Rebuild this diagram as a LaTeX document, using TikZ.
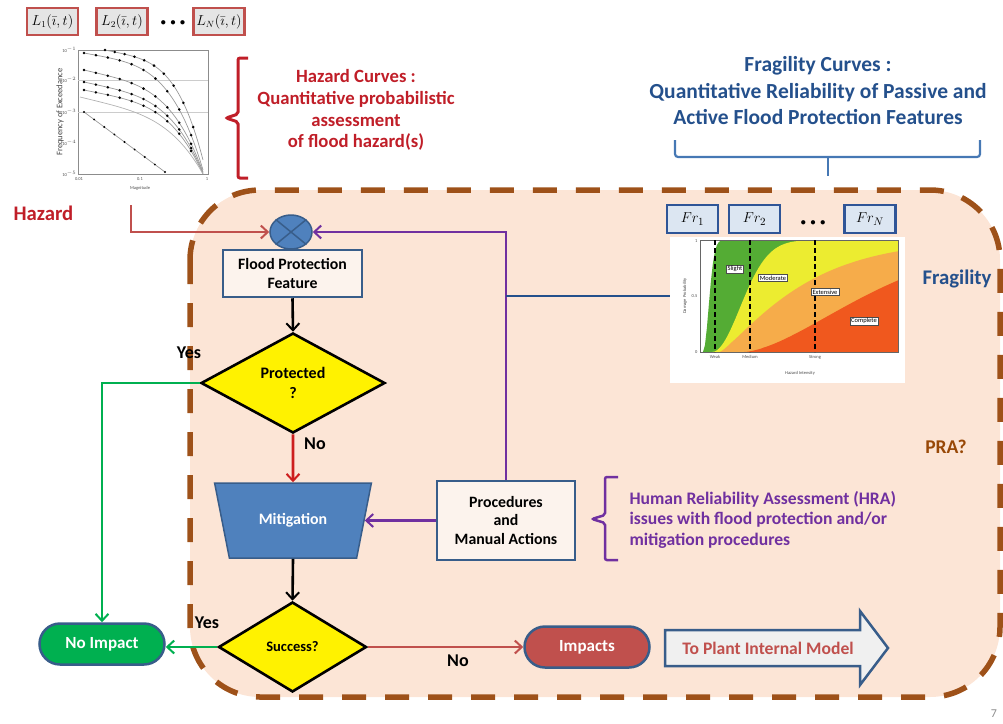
\documentclass[tikz,border=0pt]{standalone}
\usepackage{fontspec}
\setmainfont{Carlito}
\usetikzlibrary{shapes.geometric,shapes.misc,arrows.meta}
\definecolor{bgfill}{RGB}{252,229,214}
\definecolor{dashbrown}{RGB}{158,81,25}
\definecolor{hazred}{RGB}{192,30,40}
\definecolor{boxred}{RGB}{192,80,77}
\definecolor{flowred}{RGB}{205,30,30}
\definecolor{fragblue}{RGB}{36,80,140}
\definecolor{bracblue}{RGB}{70,120,180}
\definecolor{nodeblue}{RGB}{79,129,189}
\definecolor{borderblue}{RGB}{56,93,138}
\definecolor{hrapurple}{RGB}{112,48,160}
\definecolor{okgreen}{RGB}{0,176,80}
\definecolor{boxfill}{RGB}{252,243,237}
\definecolor{frfill}{RGB}{220,230,242}
\definecolor{frborder}{RGB}{47,85,151}
\definecolor{prabrown}{RGB}{152,72,7}
\definecolor{cgreen}{RGB}{84,172,52}
\definecolor{cyellow}{RGB}{236,236,48}
\definecolor{corange}{RGB}{246,172,74}
\definecolor{cred}{RGB}{240,88,30}
\newcommand\FS[2]{\fontsize{#1}{#2}\selectfont}
\begin{document}
\begin{tikzpicture}[x=1pt,y=-1pt,
  arr/.style={-{Straight Barb[length=7pt,width=13pt,line width=2pt]}, line width=2.6pt},
  lbox/.style={draw=boxred, line width=2.5pt, fill=black!10, minimum width=51, minimum height=27, inner sep=0pt, font=\FS{13.5}{15}},
  frbox/.style={draw=frborder, line width=2.5pt, fill=frfill, minimum width=51, minimum height=28, inner sep=0pt, font=\FS{15}{17}},
  flowbox/.style={draw=borderblue, line width=2.5pt, fill=boxfill, align=center, inner sep=0pt, font=\bfseries\FS{15.8}{19}},
  decision/.style={diamond, draw=black, line width=2.6pt, fill=yellow, inner sep=0pt, align=center, font=\bfseries\FS{16}{20}},
  pill/.style={rounded rectangle, draw=borderblue, line width=2.5pt, text=white, font=\bfseries\FS{17}{20}, minimum width=125, minimum height=41, inner sep=0pt},
  lbl/.style={font=\bfseries\FS{18}{20}},
  clabel/.style={draw=black!70, line width=0.4pt, fill=white, font=\FS{6.5}{7.5}, inner sep=1.4pt},
  tinylbl/.style={font=\FS{4.5}{5}, text=black!70, inner sep=0.5pt},
  dotsnode/.style={font=\FS{11}{13}, inner sep=0pt},
]
\useasboundingbox (0,0) rectangle (1003,723);

% ---------- PRA region ----------
\draw[draw=dashbrown, fill=bgfill, line width=5.5pt, dash pattern=on 24pt off 19pt, rounded corners=70pt] (190,190) rectangle (1000,697);

% ---------- hazard inputs ----------
\node[lbox] (l1) at (52.5,21.5) {$L_1(\bar{\imath},t)$};
\node[lbox] (l2) at (122,21.5) {$L_2(\bar{\imath},t)$};
\node[dotsnode] (ldots) at (173,23) {$\bullet\,\bullet\,\bullet$};
\node[lbox] (ln) at (219,21.5) {$L_N(\bar{\imath},t)$};

% hazard curves chart
\draw[black!45, line width=0.5pt] (78,50) rectangle (208,174);
\draw[black!20, line width=0.4pt] (78,80) -- (208,80) (78,112) -- (208,112);
\foreach \xa/\ya/\m/\ye in {105/50/20/160, 84/53/22/170, 84/70/28/172, 84/82/26/173, 84/90/24/174}{
  \draw[black!40, line width=0.7pt] plot[domain=0:1, samples=40] ({\xa+(203-\xa)*\x},{\ya+\m*\x+(\ye-\ya-\m)*\x^4});
  \foreach \t in {0,0.1,...,0.95}{
    \fill ({\xa+(203-\xa)*\t},{\ya+\m*\t+(\ye-\ya-\m)*\t^4}) circle (1.4pt);
  }
}
\draw[black!30, line width=0.7pt] plot[domain=0:1, samples=40] ({80+123*\x},{97+30*\x+47*\x^4});
\draw[black!40, line width=0.7pt] (84,112) -- (165,172);
\foreach \t in {0,0.125,...,1}{ \fill ({84+81*\t},{112+60*\t}) circle (1.1pt); }
\node[tinylbl, anchor=east] (hy1) at (77,50) {10$^{-1}$};
\node[tinylbl, anchor=east] (hy2) at (77,80) {10$^{-2}$};
\node[tinylbl, anchor=east] (hy3) at (77,112) {10$^{-3}$};
\node[tinylbl, anchor=east] (hy4) at (77,143) {10$^{-4}$};
\node[tinylbl, anchor=east] (hy5) at (77,174) {10$^{-5}$};
\node[tinylbl] (hx1) at (79,179) {0.01};
\node[tinylbl] (hx2) at (140,179) {0.1};
\node[tinylbl] (hx3) at (207,179) {1};
\node[tinylbl] (hxl) at (140,188) {Magnitude};
\node[font=\FS{8.5}{10}, text=black!75, rotate=90] (hyl) at (60,112) {Frequency of Exceedance};

% hazard text and brace
\draw[hazred, line width=3pt, rounded corners=2pt] (248,58) -- (238,58) -- (238,114) -- (226,118) -- (238,122) -- (238,178) -- (248,178);
\node[text=hazred, align=center, font=\bfseries\FS{18.7}{21.8}] (haztext) at (356,110) {Hazard Curves :\\Quantitative probabilistic\\assessment\\of flood hazard(s)};
\node[text=hazred, font=\bfseries\FS{20.7}{24}, anchor=west] (hazlbl) at (10,213) {Hazard};

% fragility text and brace
\node[text=fragblue, align=center, font=\bfseries\FS{21.5}{26.5}] (fragtext) at (818,91) {Fragility Curves :\\Quantitative Reliability of Passive and\\Active Flood Protection Features};
\draw[bracblue, line width=2.2pt, rounded corners=3pt] (675,140) -- (675,157) -- (980,157) -- (980,140);
\draw[bracblue, line width=2.2pt] (828,157) -- (828,176);

% ---------- fragility curves ----------
\node[frbox] (fr1) at (692.5,219) {$Fr_1$};
\node[frbox] (fr2) at (754.5,219) {$Fr_2$};
\node[dotsnode] (frdots) at (813,223) {$\bullet\,\bullet\,\bullet$};
\node[frbox] (frn) at (870,219) {$Fr_N$};
\node[fill=white, minimum width=235, minimum height=146, inner sep=0pt] (fchart) at (787.5,310) {};
\fill[cgreen] (703,352) -- plot[domain=0.015:1, samples=100] ({700+198*\x},{352-112*(1-exp(-min(((\x-0.015)/0.04)^2,9)))}) -- (898,352) -- cycle;
\fill[cyellow] (711.88,352) -- plot[domain=0.06:1, samples=80] ({700+198*\x},{352-112*(1-exp(-min(((\x-0.06)/0.2)^2,9)))}) -- (898,352) -- cycle;
\fill[corange] (719.8,352) -- plot[domain=0.101:1, samples=80] ({700+198*\x},{352-112*(1-exp(-((\x-0.1)/0.45)^1.2))}) -- (898,352) -- cycle;
\fill[cred] (743.6,352) -- plot[domain=0.221:1, samples=80] ({700+198*\x},{352-112*(1-exp(-((\x-0.22)/0.77)^1.6))}) -- (898,352) -- cycle;
\draw[black!60, line width=0.6pt] (700,240) rectangle (898,352);
\foreach \xv in {715,750,815}{
  \draw[black, line width=1.3pt, dash pattern=on 5pt off 3pt] (\xv,240) -- (\xv,352);
}
\node[clabel] (cslight) at (735,269) {Slight};
\node[clabel] (cmod) at (773,278) {Moderate};
\node[clabel] (cext) at (825,292) {Extensive};
\node[clabel] (ccomp) at (864,321) {Complete};
\node[tinylbl, anchor=east] (fy1) at (698,241) {1};
\node[tinylbl, anchor=east] (fy2) at (698,296) {0.5};
\node[tinylbl, anchor=east] (fy3) at (698,352) {0};
\node[tinylbl] (fx1) at (715,357) {Weak};
\node[tinylbl] (fx2) at (750,357) {Medium};
\node[tinylbl] (fx3) at (815,357) {Strong};
\node[tinylbl] (fxl) at (800,373) {Hazard Intensity};
\node[tinylbl, rotate=90] (fyl) at (685,296) {Damage Probability};

% ---------- flow ----------
\node[ellipse, draw=borderblue, line width=1.5pt, fill=nodeblue, minimum width=42, minimum height=34, inner sep=0pt] (mult) at (291,232) {};
\draw[borderblue, line width=1.5pt] (mult.north west) -- (mult.south east) (mult.north east) -- (mult.south west);

\node[flowbox, minimum width=139, minimum height=47] (fpf) at (292.5,273.5) {Flood Protection\\Feature};
\node[decision, minimum width=184, minimum height=100] (prot) at (293,383) {Protected\\?};
\node[trapezium, trapezium stretches=true, shape border rotate=180, trapezium angle=67, minimum width=157, minimum height=75, draw=borderblue, line width=1.5pt, fill=nodeblue, text=white, font=\bfseries\FS{15.9}{18}] (mit) at (293,520.5) {Mitigation};
\node[flowbox, minimum width=138, minimum height=79, font=\bfseries\FS{15.8}{18.5}] (proc) at (506,520.5) {Procedures\\and\\Manual Actions};
\node[decision, minimum width=148, minimum height=90, font=\bfseries\FS{14.5}{16}] (succ) at (292.5,647) {Success?};
\node[pill, fill=okgreen] (noimp) at (102,644) {No Impact};
\node[pill, fill=boxred] (imp) at (587,647) {Impacts};
\draw[draw=borderblue, line width=2.5pt, fill=black!6, line join=miter] (665,630) -- (860,630) -- (860,611) -- (888,648) -- (860,685) -- (860,666) -- (665,666) -- cycle;
\node[text=boxred, font=\bfseries\FS{17.6}{20}] (toplant) at (768,648) {To Plant Internal Model};

\coordinate (hzs) at (131,205);
\coordinate (yref) at (0,296);
\coordinate (bj) at (proc.north |- yref);

\draw[arr, boxred] (hzs) |- (mult.west);
\draw[arr, hrapurple] (proc.north) |- (mult.east);
\draw[fragblue, line width=2.2pt] (bj) -- (bj -| fchart.west);
\draw[arr, black] (fpf.south) -- (prot.north);
\draw[arr, flowred] (prot.south) -- (mit.north);
\draw[arr, black] (mit.south) -- (succ.north);
\draw[arr, okgreen] (prot.west) -| (noimp.north);
\draw[arr, okgreen] (succ.west) -- (noimp.east |- succ.west);
\draw[arr, boxred, line width=2pt] (succ.east) -- (imp.west);
\draw[arr, hrapurple] (proc.west) -- (mit.east);

\node[lbl] (yes1) at (189,353) {Yes};
\node[lbl] (no1) at (315,444) {No};
\node[lbl] (yes2) at (207,623) {Yes};
\node[lbl] (no2) at (458,661) {No};

% HRA
\draw[hrapurple, line width=2.5pt, rounded corners=2pt] (618,477) -- (605,477) -- (605,515) -- (592,519) -- (605,523) -- (605,560) -- (618,560);
\node[anchor=west, text=hrapurple, align=left, font=\bfseries\FS{17.6}{20.5}] (hra) at (626,519.5) {Human Reliability Assessment (HRA)\\issues with flood protection and/or\\mitigation procedures};

\node[text=fragblue, font=\bfseries\FS{20.8}{24}] (fraglbl) at (957,279) {Fragility};
\node[text=prabrown, font=\bfseries\FS{19.5}{22}] (pra) at (946,447) {PRA?};
\node[text=black!45, font=\FS{12}{14}] (pnum) at (994,714) {7};
\end{tikzpicture}
\end{document}
